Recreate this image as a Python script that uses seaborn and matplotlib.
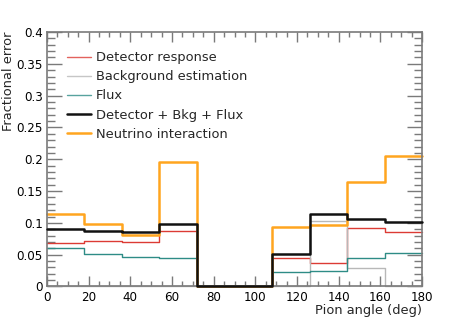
import numpy as np
import pandas as pd
import matplotlib
matplotlib.use("Agg")
import matplotlib.pyplot as plt
from matplotlib.ticker import MultipleLocator
from matplotlib.lines import Line2D
import seaborn as sns

edges = [0, 18, 36, 54, 72, 108, 126, 144, 162, 180]
detector = [0.068, 0.0717, 0.070, 0.087, 0.0, 0.045, 0.0377, 0.0915, 0.0863]
background = [0.0, 0.0, 0.0, 0.0, 0.0, 0.0, 0.1036, 0.0287, 0.0]
flux = [0.0607, 0.051, 0.047, 0.045, 0.0, 0.023, 0.0246, 0.045, 0.052]
combined = [0.091, 0.088, 0.085, 0.098, 0.0, 0.051, 0.1135, 0.106, 0.101]
neutrino = [0.114, 0.099, 0.081, 0.196, 0.0, 0.0937, 0.097, 0.165, 0.205]

labels = ["Detector response", "Background estimation", "Flux",
          "Detector + Bkg + Flux", "Neutrino interaction"]
ytick_labels = ["0", "0.05", "0.1", "0.15", "0.2", "0.25", "0.3", "0.35", "0.4"]
series = [detector, background, flux, combined, neutrino]
colors = ["#dc3b34", "#b8b8b8", "#2e8c86", "#111111", "#ffa51f"]
widths = [1.0, 1.0, 1.0, 1.8, 1.8]
draw_order = [0, 1, 2, 4, 3]

sns.set_style("ticks")
plt.rcParams['font.family'] = ['DejaVu Sans']

fig = plt.figure(figsize=(4.69, 3.19), dpi=100)
ax = fig.add_axes([0.1002, 0.1019, 0.7996, 0.7978])

for k, i in enumerate(draw_order):
    vals = series[i]
    df = pd.DataFrame({"x": edges, "y": list(vals) + [vals[-1]]})
    sns.lineplot(data=df, x="x", y="y", ax=ax, drawstyle="steps-post",
                 color=colors[i], linewidth=widths[i], estimator=None,
                 sort=False)
for k, ln in enumerate(ax.lines):
    ln.set_clip_on(False)
    ln.set_zorder(3 + k * 0.01)

ax.set_xlim(0, 180)
ax.set_ylim(0, 0.4)
ax.xaxis.set_major_locator(MultipleLocator(20))
ax.xaxis.set_minor_locator(MultipleLocator(5))
ax.set_yticks(np.arange(0, 0.401, 0.05))
ax.set_yticklabels(ytick_labels)
ax.yaxis.set_minor_locator(MultipleLocator(0.01))

gray = "#7a7a7a"
for s in ax.spines.values():
    s.set_color(gray)
    s.set_linewidth(1.2)
    s.set_zorder(3.5)
ax.tick_params(which="both", direction="in", top=True, right=True,
               color=gray, labelsize=8.6, labelcolor="black")
ax.tick_params(axis="x", which="both", pad=3.5)
ax.tick_params(axis="y", which="both", pad=3)
ax.tick_params(axis="x", which="major", length=7, width=1)
ax.tick_params(axis="x", which="minor", length=3.8, width=1)
ax.tick_params(axis="y", which="major", length=11, width=1)
ax.tick_params(axis="y", which="minor", length=6, width=1)
# keep the zero-level combined line visible over the bottom spine
ax.lines[-1].set_zorder(4)

ax.set_xlabel("Pion angle (deg)", fontsize=9.4, loc="right", labelpad=0)
ax.set_ylabel("Fractional error", fontsize=9.4, loc="top", labelpad=1)

handles = [Line2D([0], [0], color=colors[i], lw=widths[i], alpha=0.8 if i < 3 else 1)
           for i in range(5)]
leg = ax.legend(handles, labels, loc="upper left", bbox_to_anchor=(0.053, 0.924),
                frameon=False, fontsize=9.4, handlelength=1.82, handletextpad=0.42,
                labelspacing=0.465, borderaxespad=0, borderpad=0)

fig.savefig("out.png", dpi=100)
